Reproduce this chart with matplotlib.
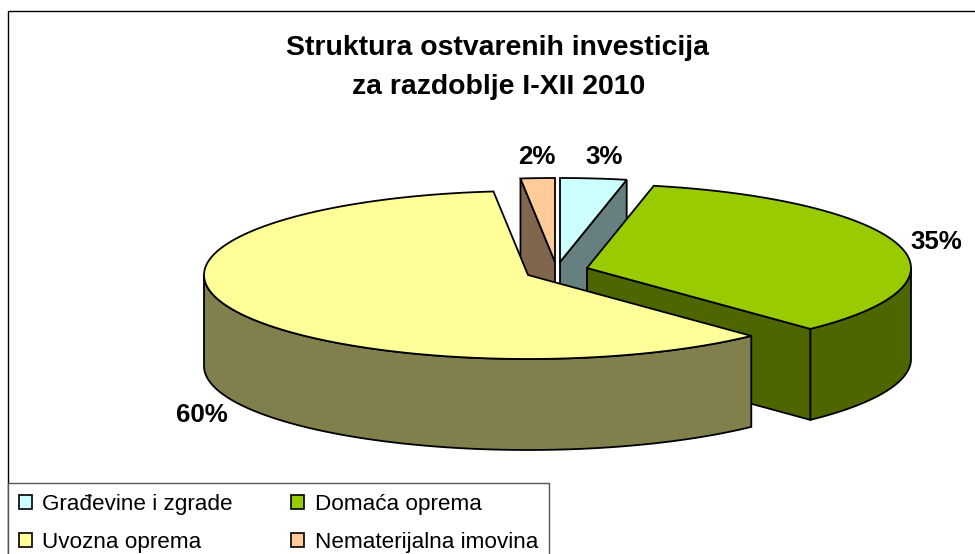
import numpy as np
import matplotlib
matplotlib.use("Agg")
import matplotlib.pyplot as plt
from matplotlib.patches import Polygon, Patch

# data
categories = ["Građevine i zgrade", "Domaća oprema", "Uvozna oprema", "Nematerijalna imovina"]
shares = [3.3, 34.6, 60.4, 1.7]
title_lines = ["Struktura ostvarenih investicija", "za razdoblje I-XII 2010"]

# style
top_colors = ["#CCFFFF", "#99CC00", "#FFFF99", "#FFCC99"]
wall_colors = ["#667F7F", "#4D6600", "#80804D", "#80664D"]
plt.rcParams["font.family"] = ["Liberation Sans", "DejaVu Sans"]

# layout (pixel-like axes)
RX, RY, DEPTH = 324, 84, 91
CENTER = (555, 263)
EXPLODE = [(5, -1), (32, 5), (-27, 12), (0, -1)]
LABEL_POS = [(604, 157), (936, 242), (202, 415), (537, 157)]
LW = 1.3

fig = plt.figure(figsize=(9.75, 5.54), dpi=100)
ax = fig.add_axes([0, 0, 1, 1])
ax.set_xlim(0, 975)
ax.set_ylim(554, 0)
ax.axis("off")

# chart frame
ax.plot([7.5, 7.5, 975], [554, 10.5, 10.5], color="black", lw=1.0, zorder=1)

cum = np.concatenate([[0], np.cumsum(shares)]) / np.sum(shares) * 2 * np.pi
starts, ends = cum[:-1], cum[1:]
apex = [(CENTER[0] + dx, CENTER[1] + dy) for dx, dy in EXPLODE]


def rim(i, a, b, n=120):
    t = np.linspace(a, b, n)
    return np.column_stack([apex[i][0] + RX * np.sin(t), apex[i][1] - RY * np.cos(t)])


def add(pts, color, z):
    ax.add_patch(Polygon(pts, closed=True, facecolor=color, edgecolor="black",
                         lw=LW, joinstyle="miter", zorder=z))


def shift(pts):
    return np.asarray(pts) + np.array([0, DEPTH])


def cut_face(i, theta, z):
    p = np.array([apex[i], rim(i, theta, theta, 1)[0]])
    add(np.vstack([p, shift(p)[::-1]]), wall_colors[i], z)


def top(i, z):
    add(np.vstack([[apex[i]], rim(i, starts[i], ends[i])]), top_colors[i], z)


# back slices
cut_face(0, ends[0], 2)
cut_face(3, starts[3], 2)
top(0, 3)
top(3, 3)

# green slice
outer = rim(1, np.pi / 2, ends[1])
add(np.vstack([outer, shift(outer)[::-1]]), wall_colors[1], 4)
cut_face(1, ends[1], 4)
top(1, 5)

# yellow slice
outer = rim(2, starts[2], 1.5 * np.pi)
add(np.vstack([outer, shift(outer)[::-1]]), wall_colors[2], 6)
top(2, 7)

# value labels
for pos, s in zip(LABEL_POS, shares):
    ax.text(pos[0], pos[1], f"{round(s)}%", ha="center", va="center",
            fontsize=18.6, fontweight="bold", color="black", zorder=9)

# title
ax.text(497, 48, title_lines[0], ha="center", va="center", fontsize=20.4, fontweight="bold")
ax.text(499, 87, title_lines[1], ha="center", va="center", fontsize=20.4, fontweight="bold")

# legend (matplotlib fills column by column; reference reads row by row)
order = [0, 2, 1, 3]
handles = [Patch(facecolor=top_colors[i], edgecolor="black", lw=1.2) for i in order]
labels = [categories[i] for i in order]
leg = ax.legend(handles, labels, ncols=2, loc="upper left",
                bbox_to_anchor=(7.5, 483), bbox_transform=ax.transData,
                fontsize=16.2, frameon=True, fancybox=False, edgecolor="#555555",
                framealpha=1, borderaxespad=0, borderpad=0.5,
                handlelength=0.58, handleheight=0.58, handletextpad=0.46,
                labelspacing=0.74, columnspacing=2.6)
leg.set_zorder(10)
leg.get_frame().set_linewidth(1.0)

fig.savefig("out.png", dpi=100)
